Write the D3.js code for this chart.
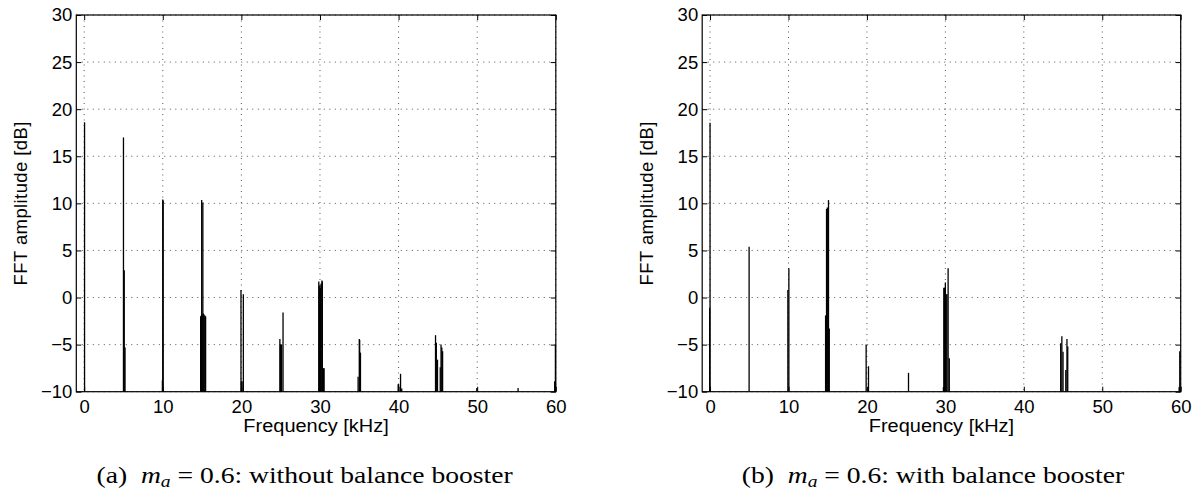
<!DOCTYPE html>
<html>
<head>
<meta charset="utf-8">
<script src="https://cdn.jsdelivr.net/npm/d3@7"></script>
<style>
  body { margin: 0; background: #fff; }
  svg { display: block; }
</style>
</head>
<body>
<svg id="fig" width="1199" height="492"></svg>
<script>
// Axis ticks
const xTicks = [0, 10, 20, 30, 40, 50, 60];
const yTicks = [-10, -5, 0, 5, 10, 15, 20, 25, 30];

// (a) without balance booster: spectral lines, frequency [kHz] and FFT amplitude [dB]
const freqA = [0.05, 5.0, 5.1, 5.2, 9.95, 10.0, 10.05,
  14.82, 14.9, 14.95, 15.0, 15.1, 15.15, 15.25, 15.35, 15.45,
  19.95, 20.0, 20.2, 20.25,
  24.9, 24.97, 25.05, 25.12, 25.3,
  29.85, 29.9, 29.95, 30.0, 30.05, 30.15, 30.25, 30.3, 30.45, 30.52,
  34.85, 35.0, 35.05, 35.15,
  39.95, 40.0, 40.25, 40.4,
  44.7, 44.8, 44.95, 45.3, 45.4, 45.5, 45.6,
  49.95, 55.2, 59.85, 59.95];
const ampA = [18.6, 17.0, 2.9, -5.3, -8.8, 10.4, 10.3,
  -2.0, -1.9, 10.35, -1.8, 10.1, -1.7, -1.8, -1.9, -2.0,
  0.8, -8.9, -8.9, 0.35,
  -4.4, -5.0, -5.0, -5.0, -1.6,
  1.7, 1.2, 0.8, 1.3, 1.0, 1.5, 1.8, 1.7, -7.5, -7.5,
  -8.4, -4.4, -4.5, -5.85,
  -9.2, -9.2, -8.1, -9.65,
  -4.0, -4.8, -6.6, -7.4, -5.0, -5.3, -5.7,
  -9.6, -9.6, -8.9, -5.0];

// (b) with balance booster
const freqB = [-0.05, 0.0, 4.98, 9.92, 10.05,
  14.73, 14.85, 14.95, 15.1, 15.2,
  19.9, 20.2, 25.3,
  29.75, 29.8, 29.9, 30.0, 30.1, 30.2, 30.35, 30.5,
  44.7, 44.85, 45.0, 45.35, 45.5, 45.6,
  59.8, 59.88];
const ampB = [-1.1, 18.55, 5.4, 0.8, 3.1,
  -1.9, 9.4, 9.55, 10.35, -3.3,
  -5.0, -7.3, -8.0,
  -9.5, 1.05, 1.05, 1.6, 0.35, 0.35, 3.1, -6.45,
  -4.85, -4.1, -5.75, -7.7, -4.4, -5.2,
  -9.5, -5.7];

const xDomain = [-1, 60];
const yDomain = [-10, 30];
const sans = "'Liberation Sans', Arial, Helvetica, sans-serif";
const serif = "'Liberation Serif', 'Times New Roman', Times, serif";

const svg = d3.select("#fig");
const plotTop = 15, plotBottom = 391.7;

const panels = [
  { left: 76.3, right: 555.8, freq: freqA, amp: ampA, tag: "(a)", tail: "without balance booster", capShift: -11.5 },
  { left: 702.2, right: 1180.7, freq: freqB, amp: ampB, tag: "(b)", tail: "with balance booster", capShift: -8.5 }
];

panels.forEach(p => {
  const x = d3.scaleLinear().domain(xDomain).range([p.left, p.right]);
  const y = d3.scaleLinear().domain(yDomain).range([plotBottom, plotTop]);
  const g = svg.append("g");

  // dotted grid
  g.append("g").selectAll("line").data(xTicks).join("line")
    .attr("x1", d => x(d)).attr("x2", d => x(d))
    .attr("y1", plotTop).attr("y2", plotBottom)
    .attr("stroke", "#555").attr("stroke-width", 1)
    .attr("stroke-dasharray", "1,4.5");
  g.append("g").selectAll("line").data(yTicks).join("line")
    .attr("x1", p.left).attr("x2", p.right)
    .attr("y1", d => y(d)).attr("y2", d => y(d))
    .attr("stroke", "#555").attr("stroke-width", 1)
    .attr("stroke-dasharray", "1,4.5");

  // spectral lines rising from the floor of the axis
  const spikes = p.freq.map((f, i) => ({ f, a: p.amp[i] }));
  g.append("g").selectAll("line").data(spikes).join("line")
    .attr("x1", d => x(d.f)).attr("x2", d => x(d.f))
    .attr("y1", y(yDomain[0])).attr("y2", d => y(d.a))
    .attr("stroke", "#000").attr("stroke-width", 1.3);

  // axes with inward ticks
  const styleAxis = sel => {
    sel.select(".domain").remove();
    sel.selectAll(".tick line").attr("stroke", "#000").attr("stroke-width", 1);
    sel.attr("font-family", sans).attr("font-size", 18.5);
    sel.selectAll("text").attr("fill", "#000");
  };
  g.append("g").attr("transform", `translate(0,${plotBottom})`)
    .call(d3.axisBottom(x).tickValues(xTicks).tickSizeInner(-5).tickSizeOuter(0).tickPadding(8))
    .call(styleAxis);
  g.append("g").attr("transform", `translate(0,${plotTop})`)
    .call(d3.axisTop(x).tickValues(xTicks).tickSizeInner(-5).tickSizeOuter(0).tickFormat(""))
    .call(styleAxis);
  g.append("g").attr("transform", `translate(${p.left},0)`)
    .call(d3.axisLeft(y).tickValues(yTicks).tickSizeInner(-5).tickSizeOuter(0).tickPadding(4))
    .call(styleAxis);
  g.append("g").attr("transform", `translate(${p.right},0)`)
    .call(d3.axisRight(y).tickValues(yTicks).tickSizeInner(-5).tickSizeOuter(0).tickFormat(""))
    .call(styleAxis);

  // box
  g.append("rect")
    .attr("x", p.left).attr("y", plotTop)
    .attr("width", p.right - p.left).attr("height", plotBottom - plotTop)
    .attr("fill", "none").attr("stroke", "#000").attr("stroke-width", 1.2);

  // axis titles
  g.append("text")
    .attr("transform", `translate(${(p.left + p.right) / 2},432.3) scale(1.08,1)`)
    .attr("text-anchor", "middle")
    .attr("font-family", sans).attr("font-size", 18.5)
    .text("Frequency [kHz]");
  g.append("text")
    .attr("transform", `translate(${p.left - 49.5},${(plotTop + plotBottom) / 2}) rotate(-90)`)
    .attr("text-anchor", "middle")
    .attr("font-family", sans).attr("font-size", 18.5)
    .attr("letter-spacing", 0.4)
    .text("FFT amplitude [dB]");

  // sub-figure caption
  const cap = g.append("text")
    .attr("transform", `translate(${(p.left + p.right) / 2 + p.capShift},483.3) scale(1.15,1)`)
    .attr("text-anchor", "middle")
    .attr("font-family", serif).attr("font-size", 24)
    .attr("fill", "#000");
  cap.append("tspan").text(p.tag + "\u2002");
  cap.append("tspan").attr("font-style", "italic").text("m");
  cap.append("tspan").attr("font-style", "italic").attr("font-size", 17).attr("dy", 4).text("a");
  cap.append("tspan").attr("dy", -4).text("\u2005=\u20050.6: " + p.tail);
});
</script>
</body>
</html>
